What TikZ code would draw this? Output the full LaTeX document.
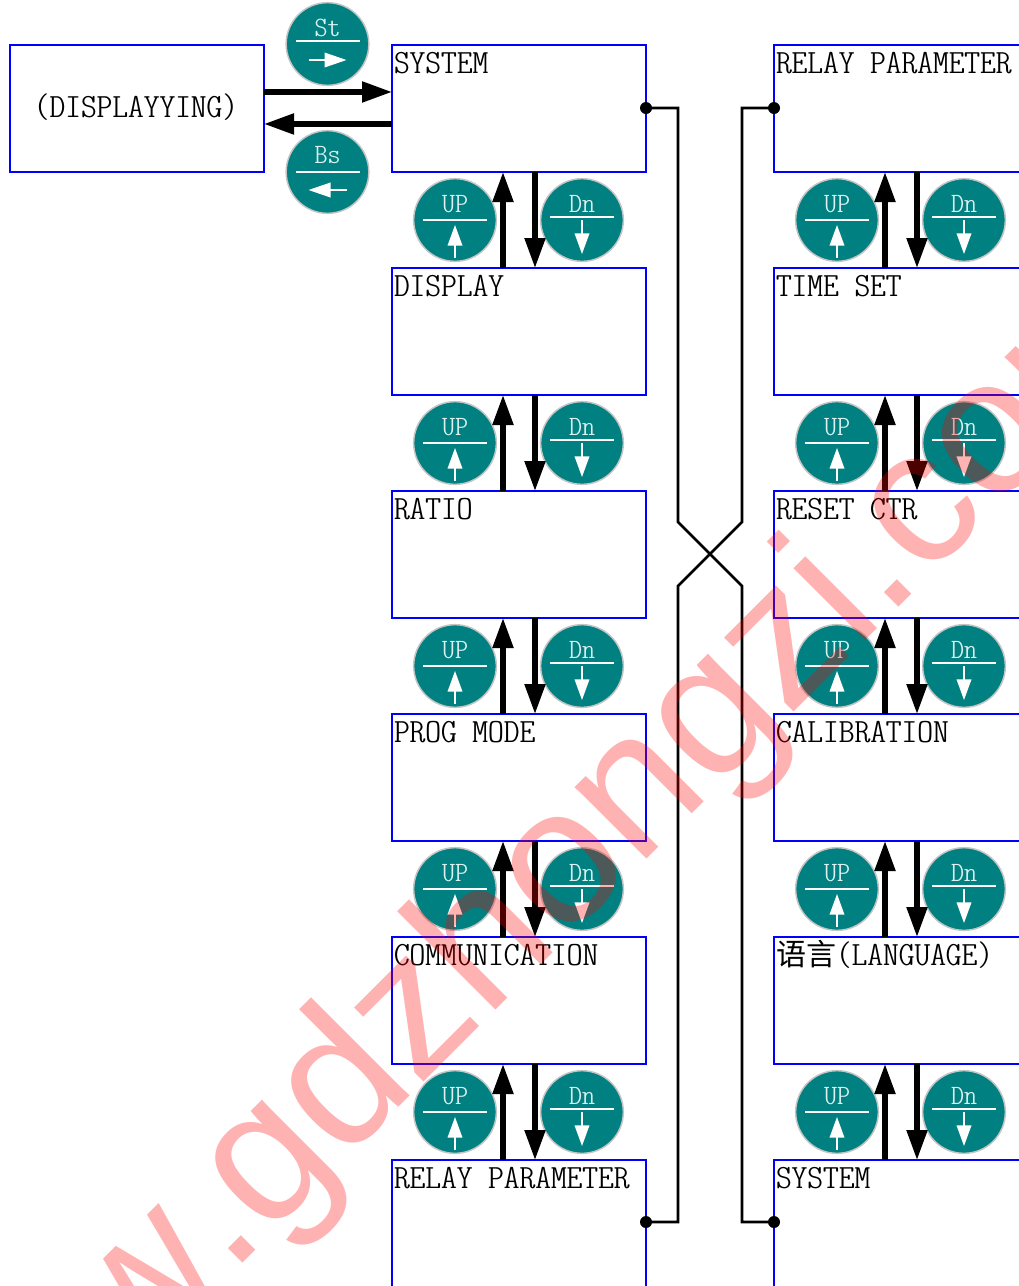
\documentclass[tikz,border=0pt]{standalone}
\usepackage{fontspec}
\usetikzlibrary{arrows.meta}
\setmainfont{Liberation Serif}
\newfontfamily\cjk{Noto Sans CJK SC}
\newfontfamily\wm[Kerning=Off]{Liberation Sans}
\newfontfamily\lab[FakeStretch=1.32]{Latin Modern Mono Light Cond}
\definecolor{tealbtn}{HTML}{008080}
\definecolor{btnedge}{HTML}{C4C4C4}
\definecolor{btntext}{HTML}{DDF1F1}
\tikzset{
  x=0.75pt,y=-0.75pt,
  panel/.style={draw=blue,line width=1.1pt,fill=white,minimum width=190.5pt,minimum height=95.25pt,inner sep=0pt,outer sep=0pt},
  panellabel/.style={anchor=base west,inner sep=0pt,outer sep=0pt,font=\lab\fontsize{25.5pt}{28pt}\selectfont,text=black},
  fatarrow/.style={line width=3.9pt,-{Triangle[length=22.5pt,width=15pt]}},
  wire/.style={line width=2.1pt,line join=miter},
  btndisc/.style={circle,draw=btnedge,fill=tealbtn,line width=1.1pt,minimum size=62pt,inner sep=0pt,outer sep=0pt},
  btnlabel/.style={inner sep=0pt,outer sep=0pt,text=btntext,anchor=base,font=\lab\fontsize{21pt}{24pt}\selectfont},
  btnrule/.style={draw=white,line width=1.1pt},
  vbarrow/.style={draw=white,line width=1.1pt,-{Triangle[length=15.5pt,width=11pt,fill=white]}},
  hbarrow/.style={draw=white,line width=1.1pt,-{Triangle[length=16.5pt,width=11pt,fill=white]}},
  dotmark/.style={circle,fill=black,minimum size=9pt,inner sep=0pt,outer sep=0pt},
}
\newcommand{\panelbox}[5]{% name, x, y, text
  \node[panel] (#1) at (#2+127,#3+63.5) {};
  \node[panellabel] (#1t) at (#2+2,#3+28) {#4};
}
\newcommand{\upbtn}[3]{%
  \begin{scope}[shift={(#2,#3)}]
  \node[btndisc] (#1) at (0,0) {};
  \node[btnlabel] (#1t) at (0,-8) {UP};
  \draw[btnrule] (-32,0) -- (32,0);
  \draw[vbarrow] (0,38) -- (0,5);
  \end{scope}
}
\newcommand{\dnbtn}[3]{%
  \begin{scope}[shift={(#2,#3)}]
  \node[btndisc] (#1) at (0,0) {};
  \node[btnlabel] (#1t) at (0,-8) {Dn};
  \draw[btnrule] (-32,-3) -- (32,-3);
  \draw[vbarrow] (0,0) -- (0,34);
  \end{scope}
}
\begin{document}
\begin{tikzpicture}
\useasboundingbox (0,0) rectangle (1019,1286);
\clip (0,0) rectangle (1019,1286);
\fill[white] (0,0) rectangle (1019,1286);

% panels
\node[panel] (disp) at (137,108.5) {};
\node[anchor=base,inner sep=0pt,font=\lab\fontsize{25.5pt}{28pt}\selectfont] (dispt) at (136,117) {(DISPLAYYING)};
\panelbox{la}{392}{45}{SYSTEM}{}
\panelbox{lb}{392}{268}{DISPLAY}{}
\panelbox{lc}{392}{491}{RATIO}{}
\panelbox{ld}{392}{714}{PROG MODE}{}
\panelbox{le}{392}{937}{COMMUNICATION}{}
\panelbox{lf}{392}{1160}{RELAY PARAMETER}{}
\panelbox{ra}{774}{45}{RELAY PARAMETER}{}
\panelbox{rb}{774}{268}{TIME SET}{}
\panelbox{rc}{774}{491}{RESET CTR}{}
\panelbox{rd}{774}{714}{CALIBRATION}{}
\panelbox{re}{774}{937}{{\cjk\fontsize{22.5pt}{28pt}\selectfont 语言}(LANGUAGE)}{}
\panelbox{rf}{774}{1160}{SYSTEM}{}

% buttons
\begin{scope}[shift={(327.5,44)}]
  \node[btndisc] (st) at (0,0) {};
  \node[btnlabel] (stt) at (0,-8) {St};
  \draw[btnrule] (-32,-3) -- (32,-3);
  \draw[hbarrow] (-19,16) -- (19,16);
\end{scope}
\begin{scope}[shift={(327.5,172)}]
  \node[btndisc] (bs) at (0,0) {};
  \node[btnlabel] (bst) at (0,-9) {Bs};
  \draw[btnrule] (-32,0) -- (32,0);
  \draw[hbarrow] (19,18) -- (-19,18);
\end{scope}
\foreach \n/\yy in {1/220,2/443,3/666,4/889,5/1112}{
  \upbtn{ul\n}{455}{\yy}
  \dnbtn{dl\n}{582}{\yy}
  \upbtn{ur\n}{837}{\yy}
  \dnbtn{dr\n}{964}{\yy}
}

% fat arrows
\draw[fatarrow] ([yshift=12.4pt]disp.east) -- ([yshift=12.4pt]la.west);
\draw[fatarrow] ([yshift=-11.6pt]la.west) -- ([yshift=-11.6pt]disp.east);
\foreach \p/\q in {la/lb,lb/lc,lc/ld,ld/le,le/lf,ra/rb,rb/rc,rc/rd,rd/re,re/rf}{
  \draw[fatarrow] ([xshift=-12pt]\q.north) -- ([xshift=-12pt]\p.south);
  \draw[fatarrow] ([xshift=12pt]\p.south) -- ([xshift=12pt]\q.north);
}

% crossing wires
\node[dotmark] (d1) at (646,108) {};
\node[dotmark] (d2) at (774,108) {};
\node[dotmark] (d3) at (646,1222) {};
\node[dotmark] (d4) at (774,1222) {};
\coordinate (d1a) at (678,108);
\coordinate (d1b) at (678,522);
\coordinate (d1c) at (742,586);
\coordinate (d1d) at (742,1222);
\coordinate (d2a) at (742,108);
\coordinate (d2b) at (742,522);
\coordinate (d2c) at (678,586);
\coordinate (d2d) at (678,1222);
\draw[wire] (d1.center) -- (d1a) -- (d1b) -- (d1c) -- (d1d) -- (d4.center);
\draw[wire] (d2.center) -- (d2a) -- (d2b) -- (d2c) -- (d2d) -- (d3.center);

% watermark
\node[rotate=45,anchor=base west,inner sep=0pt,outer sep=0pt,text=red,text opacity=0.3,font=\wm\fontsize{144pt}{150pt}\selectfont] (mark) at (-64,1570) {www.gdzhongzi.com};
\end{tikzpicture}
\end{document}
